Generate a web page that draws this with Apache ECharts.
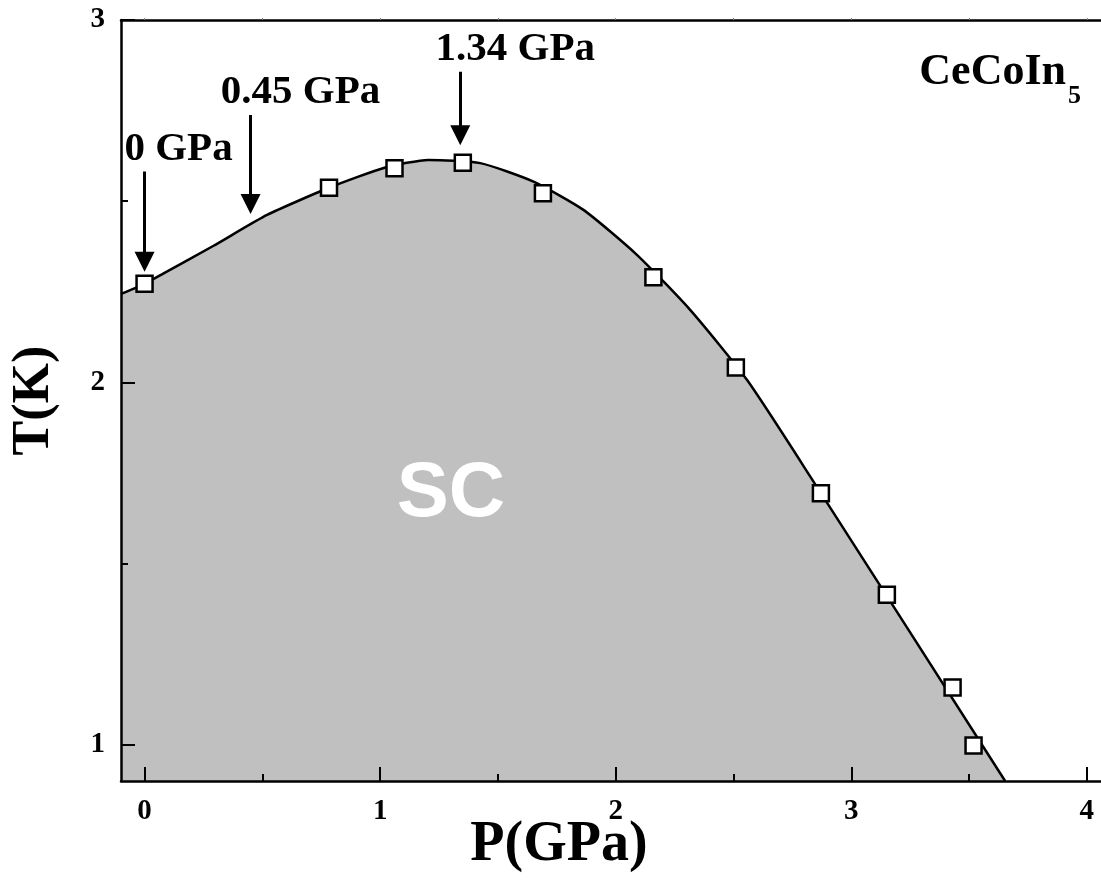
<!DOCTYPE html>
<html>
<head>
<meta charset="utf-8">
<script src="https://cdn.jsdelivr.net/npm/echarts@6/dist/echarts.min.js"></script>
<style>
  html, body { margin: 0; padding: 0; background: #fff; }
  #chart { width: 1101px; height: 886px; }
</style>
</head>
<body>
<div id="chart"></div>
<script>
// ---- data ----
const pressure = [0.0, 0.783, 1.061, 1.351, 1.691, 2.160, 2.510, 2.871, 3.151, 3.430, 3.519];
const tc       = [2.272, 2.537, 2.591, 2.606, 2.522, 2.290, 2.041, 1.694, 1.414, 1.158, 0.998];

const curveP = [-0.1, 0.0, 0.081, 0.293, 0.520, 0.783, 1.022, 1.205, 1.425, 1.651, 1.863, 2.090, 2.316, 2.557, 2.826, 3.653];
const curveT = [2.244, 2.272, 2.301, 2.377, 2.462, 2.537, 2.593, 2.614, 2.605, 2.554, 2.476, 2.352, 2.200, 2.007, 1.740, 0.900];

const arrowP      = [0, 0.45, 1.34];
const arrowTop    = [2.582, 2.738, 2.857];
const arrowEnd    = [2.333, 2.492, 2.682];
const arrowLabels = ['0 GPa', '0.45 GPa', '1.34 GPa'];

const xMajorTicks = [0, 1, 2, 3, 4];
const xMinorTicks = [0.5, 1.5, 2.5, 3.5];
const yMajorTicks = [1, 2, 3];
const yMinorTicks = [1.5, 2.5];

const regionLabel = 'SC';
const regionPos = [1.30, 1.69];
const compoundMain = 'CeCoIn';
const compoundSub = '5';

// ---- chart ----
const SERIF = "'Liberation Serif', 'Times New Roman', serif";
const chart = echarts.init(document.getElementById('chart'), null, { renderer: 'canvas' });

const labelOffsets = [34, 50, 55];

const axisCommon = { min: -0.1, max: 4.06, type: 'value', splitLine: { show: false }, z: 10, nameMoveOverlap: false };
const yCommon = { min: 0.9, max: 3, type: 'value', splitLine: { show: false }, z: 10, nameMoveOverlap: false };

chart.setOption({
  animation: false,
  backgroundColor: '#fff',
  grid: { left: 121, right: 0, top: 20, bottom: 105, containLabel: false, outerBoundsMode: 'none' },
  xAxis: [
    Object.assign({}, axisCommon, {
      position: 'bottom',
      name: 'P(GPa)', nameLocation: 'middle', nameGap: 37,
      nameTextStyle: { fontFamily: SERIF, fontWeight: 'bold', fontSize: 56, color: '#000', padding: [0, 104, 0, 0] },
      axisLine: { onZero: false, lineStyle: { color: '#000', width: 2.5 } },
      axisTick: { inside: true, length: 14, lineStyle: { color: '#000', width: 2 }, customValues: xMajorTicks },
      axisLabel: { customValues: xMajorTicks, fontFamily: SERIF, fontWeight: 'bold', fontSize: 29, color: '#000', margin: 16 }
    }),
    Object.assign({}, axisCommon, {
      position: 'bottom', offset: 0,
      axisLine: { show: false, onZero: false },
      axisTick: { inside: true, length: 7, lineStyle: { color: '#000', width: 2 }, customValues: xMinorTicks },
      axisLabel: { show: false }
    }),
    Object.assign({}, axisCommon, {
      position: 'top',
      axisLine: { onZero: false, lineStyle: { color: '#000', width: 2.5 } },
      axisTick: { inside: false, length: 2, lineStyle: { color: '#888', width: 1 }, customValues: xMajorTicks.concat(xMinorTicks) },
      axisLabel: { show: false }
    })
  ],
  yAxis: [
    Object.assign({}, yCommon, {
      position: 'left',
      name: 'T(K)', nameLocation: 'middle', nameGap: 60, nameRotate: 90,
      nameTextStyle: { fontFamily: SERIF, fontWeight: 'bold', fontSize: 52, color: '#000' },
      axisLine: { onZero: false, lineStyle: { color: '#000', width: 2.5 } },
      axisTick: { inside: true, length: 14, lineStyle: { color: '#000', width: 2 }, customValues: yMajorTicks },
      axisLabel: { customValues: yMajorTicks, fontFamily: SERIF, fontWeight: 'bold', fontSize: 29, color: '#000', margin: 16 }
    }),
    Object.assign({}, yCommon, {
      position: 'left', offset: 0,
      axisLine: { show: false, onZero: false },
      axisTick: { inside: true, length: 7, lineStyle: { color: '#000', width: 2 }, customValues: yMinorTicks },
      axisLabel: { show: false }
    })
  ],
  series: [
    {
      type: 'line',
      xAxisIndex: 0, yAxisIndex: 0,
      data: curveP.map((p, i) => [p, curveT[i]]),
      symbol: 'none',
      smooth: 0.2,
      lineStyle: { color: '#000', width: 2.5 },
      areaStyle: { color: '#c0c0c0', opacity: 1, origin: 'start' },
      z: 2
    },
    {
      type: 'scatter',
      xAxisIndex: 0, yAxisIndex: 0,
      data: pressure.map((p, i) => [p, tc[i]]),
      symbol: 'rect',
      symbolSize: 16,
      itemStyle: { color: '#fff', borderColor: '#000', borderWidth: 2.5, opacity: 1 },
      z: 5
    },
    {
      type: 'lines',
      coordinateSystem: 'cartesian2d',
      xAxisIndex: 0, yAxisIndex: 0,
      data: arrowP.map((p, i) => ({ coords: [[p, arrowTop[i]], [p, arrowEnd[i]]] })),
      symbol: ['none', 'triangle'],
      symbolSize: [15, 20],
      lineStyle: { color: '#000', width: 3, opacity: 1 },
      z: 6
    },
    {
      type: 'scatter',
      xAxisIndex: 0, yAxisIndex: 0,
      symbolSize: 0,
      itemStyle: { opacity: 1 },
      data: arrowP.map((p, i) => ({
        value: [p, arrowTop[i]],
        label: { offset: [labelOffsets[i], 0] }
      })),
      label: {
        show: true, position: 'top', distance: 2,
        formatter: (prm) => arrowLabels[prm.dataIndex],
        fontFamily: SERIF, fontWeight: 'bold', fontSize: 41, color: '#000', opacity: 1
      },
      silent: true,
      z: 7
    },
    {
      type: 'scatter',
      xAxisIndex: 0, yAxisIndex: 0,
      symbolSize: 0,
      itemStyle: { opacity: 1 },
      data: [regionPos],
      label: {
        show: true, position: 'inside',
        formatter: regionLabel,
        fontFamily: "'Liberation Sans', Arial, sans-serif", fontWeight: 'bold', fontSize: 78, color: '#fff', opacity: 1
      },
      silent: true,
      z: 4
    }
  ],
  graphic: [
    {
      type: 'text', z: 10,
      style: { text: compoundMain, x: 1066, y: 73, align: 'right', verticalAlign: 'middle',
        font: "bold 44px 'Liberation Serif', 'Times New Roman', serif", fill: '#000' }
    },
    {
      type: 'text', z: 10,
      style: { text: compoundSub, x: 1068, y: 96, align: 'left', verticalAlign: 'middle',
        font: "bold 26px 'Liberation Serif', 'Times New Roman', serif", fill: '#000' }
    }
  ]
});
</script>
</body>
</html>
